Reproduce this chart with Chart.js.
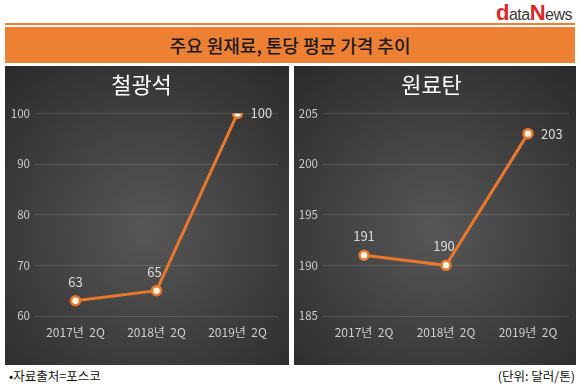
<!DOCTYPE html>
<html>
<head>
<meta charset="utf-8">
<script src="https://cdn.jsdelivr.net/npm/chart.js@4.4.1/dist/chart.umd.min.js"></script>
<style>
  body { margin: 0; background: #fff; font-family: "Noto Sans CJK KR", sans-serif; }
  #wrap { position: relative; width: 580px; height: 385px; overflow: hidden; }
  #logo { position: absolute; right: 8px; top: 0px; font-family: "Liberation Sans", Arial, sans-serif;
          font-size: 16px; color: #3a3a3a; letter-spacing: -0.5px; }
  #logo .r { color: #d9262b; font-weight: bold; font-size: 22px; }
  #topline { position: absolute; left: 5px; top: 23px; width: 570px; height: 2px; background: #ee8034; }
  #banner { position: absolute; left: 5px; top: 27px; width: 570px; height: 36px; background: #ee8034;
            color: #1a1a1a; font-size: 18px; font-weight: 500; line-height: 36px; text-align: center; }
  .panel { position: absolute; top: 66px; }
  #p1 { left: 5px; }
  #p2 { left: 294px; }
  #src { position: absolute; left: 9px; top: 366px; font-size: 12.5px; color: #111; }
  #unit { position: absolute; right: 5px; top: 366px; font-size: 12.5px; color: #111; }
</style>
</head>
<body>
<div id="wrap">
  <div id="logo"><span class="r">d</span>ata<span class="r">N</span>ews</div>
  <div id="topline"></div>
  <div id="banner">주요 원재료, 톤당 평균 가격 추이</div>
  <div class="panel" id="p1"><canvas id="ironChart" width="284" height="299"></canvas></div>
  <div class="panel" id="p2"><canvas id="coalChart" width="282" height="299"></canvas></div>
  <div id="src">•자료출처=포스코</div>
  <div id="unit">(단위: 달러/톤)</div>
</div>
<script>
// x categories (same for both panels)
const periods = ["2017년  2Q", "2018년  2Q", "2019년  2Q"];

// price per ton
const ironOre = [63, 65, 100];
const cokingCoal = [191, 190, 203];

// y axis ranges
const ironAxis = { min: 60, max: 100, step: 10 };
const coalAxis = { min: 185, max: 205, step: 5 };

const lineColor = '#e9782c';
const tickFont = { family: '"Noto Sans CJK KR"', size: 11.5 };

// dark radial background of each panel
const panelBackground = {
    id: 'panelBackground',
    beforeDraw (chart) {
        const ctx = chart.ctx, w = chart.width, h = chart.height;
        const g = ctx.createRadialGradient(w / 2, h * 0.55, 10, w / 2, h * 0.55, w * 0.8);
        g.addColorStop(0, '#555555');
        g.addColorStop(1, '#282828');
        ctx.save();
        ctx.fillStyle = g;
        ctx.fillRect(0, 0, w, h);
        ctx.restore(); }
};

// value text next to each point; place = 'top' or 'right'
const valueLabels = {
    id: 'valueLabels',
    afterDatasetsDraw (chart, args, opts) {
        const ctx = chart.ctx;
        const points = chart.getDatasetMeta(0).data;
        const values = chart.data.datasets[0].data;
        ctx.save();
        ctx.font = '13px "Noto Sans CJK KR"';
        ctx.fillStyle = '#dcdcdc';
        ctx.textBaseline = 'middle';
        points.forEach((pt, i) => {
            if (opts.place[i] === 'right') { ctx.textAlign = 'left'; ctx.fillText(values[i], pt.x + 13, pt.y); }
            else { ctx.textAlign = 'center'; ctx.fillText(values[i], pt.x - (i === 1 ? 2 : 0), pt.y - 19); } });
        ctx.restore(); }
};

function makeChart (id, title, values, axis, place, yWidth, padRight) {
    return new Chart(id, {
        type: 'line',
        data: {
            labels: periods,
            datasets: [{
                data: values,
                borderColor: lineColor,
                borderWidth: 3,
                pointRadius: 4.5,
                pointBorderWidth: 2.5,
                pointBackgroundColor: '#fff6e6',
                pointBorderColor: lineColor,
                tension: 0
            }]
        },
        options: {
            responsive: false,
            animation: false,
            devicePixelRatio: 1,
            layout: { padding: { left: 0, right: padRight, top: 0, bottom: 0 } },
            plugins: {
                legend: { display: false },
                tooltip: { enabled: false },
                title: { display: true, text: title, color: '#ffffff',
                         font: { family: '"Noto Sans CJK KR"', size: 22, weight: 'normal' },
                         lineHeight: 1.2, padding: { top: 5, bottom: 16 } },
                valueLabels: { place: place }
            },
            scales: {
                x: {
                    offset: true,
                    grid: { display: false, drawTicks: false },
                    border: { display: false },
                    ticks: { color: '#cfcfcf', font: { family: '"Noto Sans CJK KR"', size: 12 }, padding: 9, maxRotation: 0 },
                    afterFit: (s) => { s.height = 49; }
                },
                y: {
                    min: axis.min, max: axis.max,
                    grid: { color: 'rgba(255,255,255,0.13)', drawTicks: false },
                    border: { display: false },
                    ticks: { stepSize: axis.step, color: '#cfcfcf', font: tickFont, padding: 5 },
                    afterFit: (s) => { s.width = yWidth; }
                }
            }
        },
        plugins: [panelBackground, valueLabels]
    });
}

makeChart('ironChart', '철광석', ironOre, ironAxis, ['top', 'top', 'right'], 30, 11);
makeChart('coalChart', '원료탄', cokingCoal, coalAxis, ['top', 'top', 'right'], 29, 7);
</script>
</body>
</html>
